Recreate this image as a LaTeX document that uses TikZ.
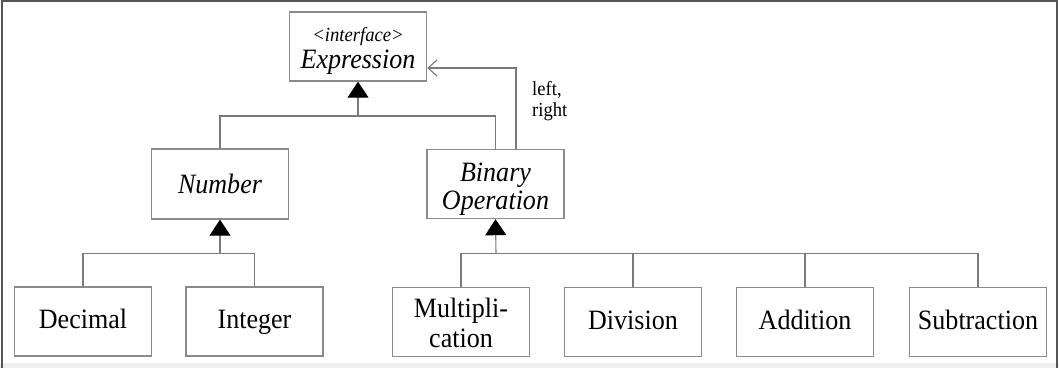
\documentclass[tikz,border=0pt]{standalone}
\usepackage{fontspec}
\setmainfont{Liberation Serif}[FakeStretch=0.93]
\usetikzlibrary{arrows.meta}
\definecolor{boxgray}{HTML}{8A8A8A}
\definecolor{linegray}{HTML}{7A7A7A}
\definecolor{framegray}{HTML}{555555}
\definecolor{bandgray}{HTML}{EEEEEE}
\tikzset{
  cls/.style={draw=boxgray, line width=1.4pt, fill=white, inner sep=0pt,
    minimum width=137pt, minimum height=69pt,
    font=\fontsize{28}{30}\selectfont, text height=20pt, text depth=6pt},
  clstext/.style={font=\fontsize{28}{30}\selectfont, align=center, inner sep=0pt},
  conn/.style={draw=linegray, line width=1.1pt},
  gen/.style={conn, -{Triangle[length=16pt,width=21pt,color=black,fill=black]}},
  assoc/.style={conn, -{Straight Barb[length=9pt,width=16pt,line width=1.1pt]}},
  lbl/.style={font=\fontsize{20}{21}\selectfont, inner sep=0pt, align=left}
}
\begin{document}
\begin{tikzpicture}[x=1pt,y=-1pt]
\useasboundingbox (0,0) rectangle (1059,368);
% frame
\fill[bandgray] (0,363) rectangle (1059,368);
\draw[framegray, line width=1.6pt] (1.8,368) -- (1.8,0.8) -- (1057,0.8) -- (1057,368);
% classes
\node[cls, label={[clstext, yshift=-4pt]center:{\fontsize{20}{21}\selectfont\itshape <interface>}\\[-3pt]\itshape Expression}] (expr) at (358,46.5) {};
\node[cls, minimum height=70pt, text height=22pt, text depth=4pt] (num) at (220,184) {\itshape Number};
\node[cls, label={[clstext, yshift=-5pt]center:\itshape Binary\\[-2pt]\itshape Operation}] (binop) at (495.5,184) {};
\node[cls] (dec) at (83,321.5) {Decimal};
\node[cls] (int) at (254.5,321.5) {Integer};
\node[cls, label={[clstext, yshift=-1pt]center:Multipli-\\cation}] (mul) at (461,322) {};
\node[cls] (div) at (633,322) {Division};
\node[cls] (add) at (805,322) {Addition};
\node[cls] (sub) at (978,322) {Subtraction};
% junction points
\coordinate (j1) at (358,116);
\coordinate (j2) at (220,253.5);
\coordinate (j3) at (496,253.5);
% generalization to Expression
\draw[conn] (num.north) |- (binop.north |- j1) -- (binop.north);
\draw[gen] (j1) -- (expr.south);
% generalization to Number
\draw[conn] (dec.north) |- (int.north |- j2) -- (int.north);
\draw[gen] (j2) -- (num.south);
% generalization to Binary Operation
\draw[conn] (mul.north) |- (sub.north |- j3) -- (sub.north);
\draw[conn] (div.north) -- (div.north |- j3);
\draw[conn] (add.north) -- (add.north |- j3);
\draw[gen] (j3) -- (binop.south);
% association
\draw[assoc] ([xshift=20.5pt]binop.north) |- ([yshift=-21.5pt]expr.east);
\node[lbl, anchor=north west] (lr) at (532,81) {left,\\right};
\end{tikzpicture}
\end{document}
